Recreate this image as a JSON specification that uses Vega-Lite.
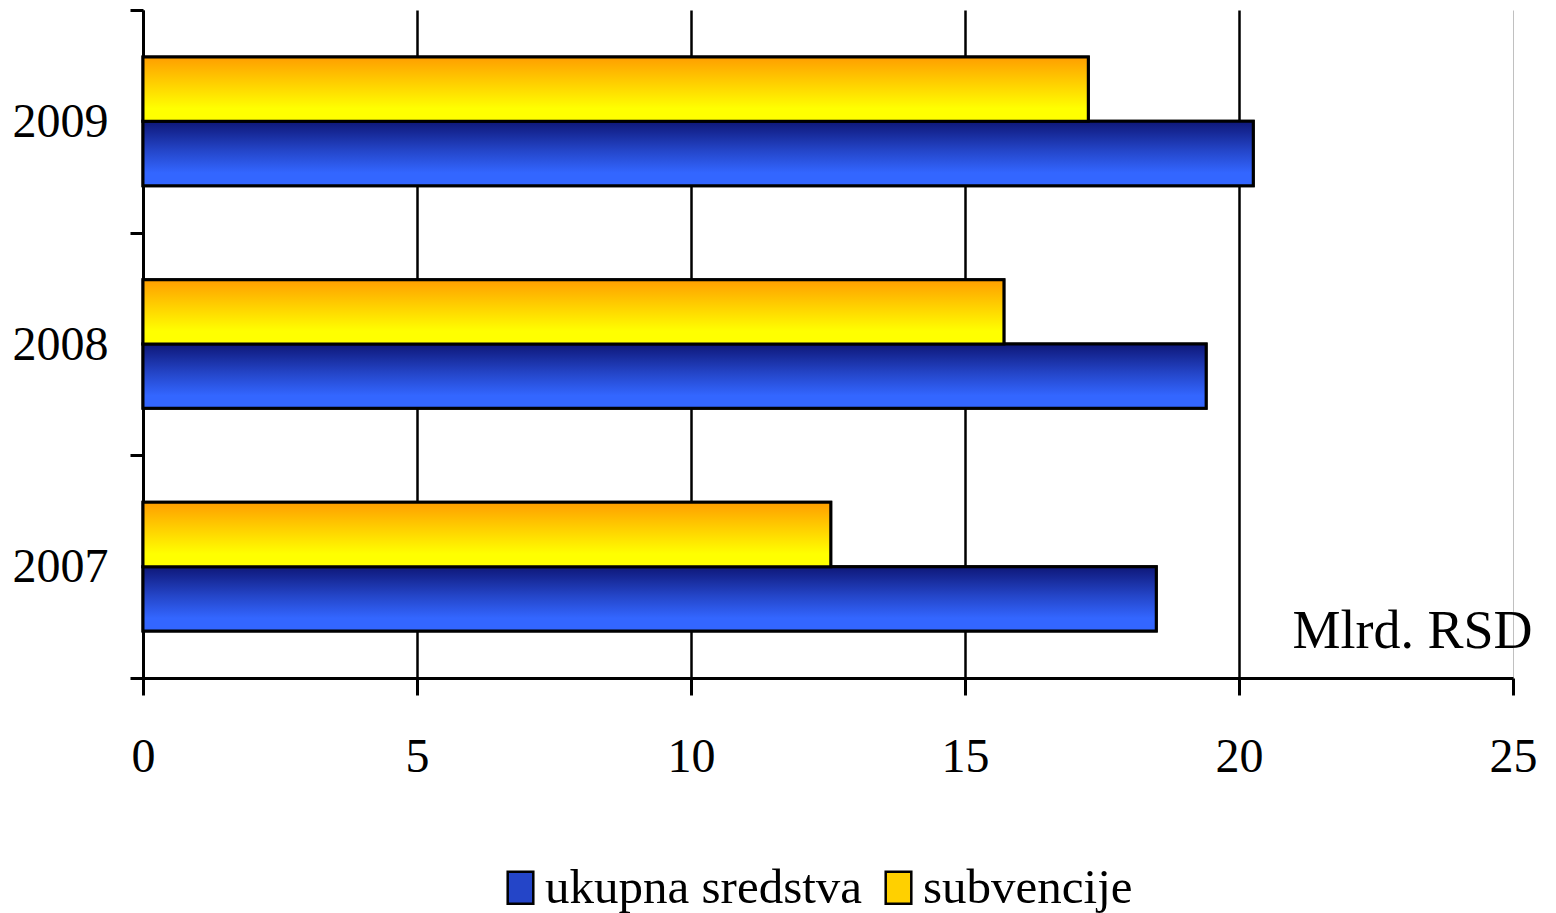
{
  "$schema": "https://vega.github.io/schema/vega-lite/v6.json",
  "width": 1370,
  "height": 668,
  "autosize": {"type": "none"},
  "padding": {"left": 143, "top": 10, "right": 43, "bottom": 235},
  "background": "white",
  "data": {
    "values": [
      {"year": "2009", "series": "subvencije", "value": 17.25},
      {"year": "2009", "series": "ukupna sredstva", "value": 20.26},
      {"year": "2008", "series": "subvencije", "value": 15.71},
      {"year": "2008", "series": "ukupna sredstva", "value": 19.4},
      {"year": "2007", "series": "subvencije", "value": 12.55},
      {"year": "2007", "series": "ukupna sredstva", "value": 18.49}
    ]
  },
  "config": {
    "view": {"stroke": null},
    "font": "Liberation Serif"
  },
  "encoding": {
    "y": {
      "field": "year",
      "type": "nominal",
      "sort": ["2009", "2008", "2007"],
      "scale": {"paddingInner": 0, "paddingOuter": 0},
      "axis": {
        "title": null,
        "tickBand": "extent",
        "domainColor": "black",
        "domainWidth": 3,
        "tickColor": "black",
        "tickWidth": 3,
        "tickSize": 13,
        "labelFont": "Liberation Serif",
        "labelFontSize": 48,
        "labelColor": "black",
        "labelPadding": 22,
        "labelBaseline": "middle",
        "labelOffset": 1,
        "grid": false
      }
    },
    "yOffset": {
      "field": "series",
      "sort": ["subvencije", "ukupna sredstva"],
      "scale": {"paddingInner": 0, "paddingOuter": 0.73}
    },
    "x": {
      "field": "value",
      "type": "quantitative",
      "scale": {"domain": [0, 25], "nice": false},
      "axis": {
        "title": "Mlrd. RSD",
        "titleFont": "Liberation Serif",
        "titleFontSize": 54,
        "titleFontWeight": "normal",
        "titleColor": "black",
        "titleAnchor": "end",
        "titleAlign": "right",
        "titleBaseline": "alphabetic",
        "titleX": 1389,
        "titleY": -31,
        "values": [0, 5, 10, 15, 20, 25],
        "grid": true,
        "gridColor": {"condition": {"test": "datum.value === 25", "value": "#c0c0c0"}, "value": "black"},
        "gridWidth": {"condition": {"test": "datum.value === 25", "value": 1}, "value": 2.5},
        "domainColor": "black",
        "domainWidth": 3,
        "tickColor": "black",
        "tickWidth": 3,
        "tickSize": 17,
        "labelFont": "Liberation Serif",
        "labelFontSize": 48,
        "labelColor": "black",
        "labelPadding": 62,
        "labelFlush": false,
        "labelBaseline": "middle"
      }
    }
  },
  "layer": [
    {
      "mark": {"type": "bar", "stroke": "black", "strokeWidth": 3},
      "encoding": {
        "color": {
          "field": "series",
          "type": "nominal",
          "scale": {
            "domain": ["ukupna sredstva", "subvencije"],
            "range": ["#2445c8", "#ffd000"]
          },
          "legend": {
            "title": null,
            "orient": "none",
            "direction": "horizontal",
            "legendX": 353,
            "legendY": 853,
            "symbolType": "M-0.8,-1H0.8V1H-0.8Z",
            "symbolSize": 1024,
            "symbolStrokeColor": "black",
            "symbolStrokeWidth": 2.5,
            "symbolOpacity": 1,
            "labelFont": "Liberation Serif",
            "labelFontSize": 49,
            "labelColor": "black",
            "labelOffset": 0,
            "columnPadding": 11,
            "labelLimit": 500,
            "encode": {
              "symbols": {
                "enter": {
                  "shape": {"value": "M-0.8,-1H0.8V1H-0.8Z"},
                  "size": {"value": 1024},
                  "stroke": {"value": "black"},
                  "strokeWidth": {"value": 2.5}
                },
                "update": {
                  "shape": {"value": "M-0.8,-1H0.8V1H-0.8Z"},
                  "size": {"value": 1024},
                  "stroke": {"value": "black"},
                  "strokeWidth": {"value": 2.5},
                  "opacity": {"value": 1}
                }
              }
            }
          }
        }
      }
    },
    {
      "transform": [{"filter": "datum.series === 'ukupna sredstva'"}],
      "mark": {
        "type": "bar",
        "stroke": "black",
        "strokeWidth": 3,
        "color": {"gradient": "linear", "x1": 0, "y1": 0, "x2": 0, "y2": 1, "stops": [
          {"offset": 0, "color": "#0e1778"},
          {"offset": 0.45, "color": "#2445c8"},
          {"offset": 0.8, "color": "#3366ff"},
          {"offset": 1, "color": "#3366ff"}
        ]}
      }
    },
    {
      "transform": [{"filter": "datum.series === 'subvencije'"}],
      "mark": {
        "type": "bar",
        "stroke": "black",
        "strokeWidth": 3,
        "color": {"gradient": "linear", "x1": 0, "y1": 0, "x2": 0, "y2": 1, "stops": [
          {"offset": 0, "color": "#ff9e00"},
          {"offset": 0.8, "color": "#ffff00"},
          {"offset": 1, "color": "#ffff00"}
        ]}
      }
    }
  ]
}
